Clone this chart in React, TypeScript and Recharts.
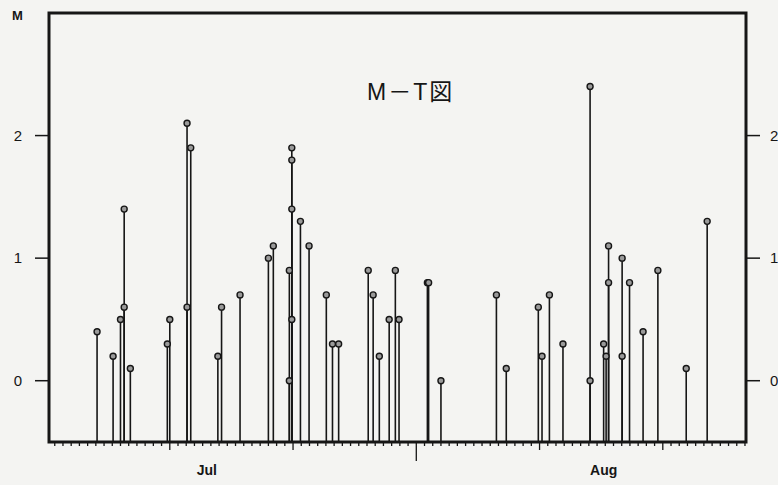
import React from "react";
import { ComposedChart, Scatter, XAxis, YAxis, ReferenceLine, ReferenceArea } from "recharts";

// event day (days from the chart origin) and magnitude
const days = [
  4.1, 5.4, 6.0, 6.3, 6.3, 6.8, 9.8, 10.0, 11.4, 11.4, 11.7, 13.9, 14.2, 15.7,
  18.0, 18.4, 19.7, 19.7, 19.9, 19.9, 19.9, 19.9, 20.6, 21.3, 22.7, 23.2, 23.7,
  26.1, 26.5, 27.0, 27.8, 28.3, 28.6, 30.9, 31.0, 32.0, 36.5, 37.3, 39.9, 40.2,
  40.8, 41.9, 44.1, 44.1, 45.2, 45.4, 45.6, 45.6, 46.7, 46.7, 47.3, 48.4, 49.6,
  51.9, 53.6,
];
const mags = [
  0.4, 0.2, 0.5, 1.4, 0.6, 0.1, 0.3, 0.5, 2.1, 0.6, 1.9, 0.2, 0.6, 0.7,
  1.0, 1.1, 0.9, 0.0, 1.9, 1.8, 1.4, 0.5, 1.3, 1.1, 0.7, 0.3, 0.3,
  0.9, 0.7, 0.2, 0.5, 0.9, 0.5, 0.8, 0.8, 0.0, 0.7, 0.1, 0.6, 0.2,
  0.7, 0.3, 2.4, 0.0, 0.3, 0.2, 1.1, 0.8, 1.0, 0.2, 0.8, 0.4, 0.9,
  0.1, 1.3,
];
const monthLabels = ["Jul", "Aug"];
const monthDays = [13.0, 45.2];
const yTicks = [0, 1, 2];

const X_MIN = 0.2;
const X_MAX = 56.75;
const Y_MIN = -0.5;
const Y_MAX = 3.0;
const INK = "#161616";
const FONT = "'Liberation Sans', Arial, sans-serif";

const events = days.map((d, i) => ({ day: d, m: mags[i] }));

// minor ticks every 2/3 day, a major one every 10 days
const axisTicks: number[] = [];
for (let k = -14; k <= 70; k++) {
  const v = 10 + (k * 2) / 3;
  if (v > X_MIN && v < X_MAX) axisTicks.push(Number(v.toFixed(4)));
}
const allTicks = [...axisTicks, ...monthDays];

const XTick = (props: any) => {
  const { x, y, payload } = props;
  const v = payload.value;
  const mi = monthDays.findIndex((d) => Math.abs(d - v) < 1e-6);
  if (mi >= 0) {
    return (
      <text x={x} y={y + 33} textAnchor="middle" fontSize={14} fontWeight="bold" fill={INK} fontFamily={FONT}>
        {monthLabels[mi]}
      </text>
    );
  }
  const k = Math.round(((v - 10) * 3) / 2);
  let len = 4;
  if (k % 15 === 0) len = Math.abs(v - 30) < 0.01 ? 19 : 8;
  return <line x1={x} x2={x} y1={y} y2={y + len} stroke={INK} strokeWidth={1.3} />;
};

const Dot = (props: any) => {
  const { cx, cy } = props;
  return <circle cx={cx} cy={cy} r={3} fill="#9a9a9a" stroke={INK} strokeWidth={1.4} />;
};

export default function App() {
  return (
    <div style={{ position: "fixed", left: 0, top: 0, width: 778, height: 485, background: "#f4f4f2" }}>
      <ComposedChart width={778} height={485} margin={{ top: 13, right: 0, bottom: 0, left: 0 }}>
        <XAxis
          dataKey="day"
          type="number"
          domain={[X_MIN, X_MAX]}
          allowDataOverflow
          ticks={allTicks}
          interval={0}
          tick={<XTick />}
          tickLine={false}
          tickSize={0}
          tickMargin={0}
          axisLine={false}
          height={43}
        />
        <YAxis
          yAxisId="left"
          type="number"
          domain={[Y_MIN, Y_MAX]}
          allowDataOverflow
          ticks={yTicks}
          interval={0}
          width={49}
          axisLine={false}
          tickSize={14}
          tickMargin={13}
          tickLine={{ stroke: INK, strokeWidth: 1.5 }}
          tick={{ fill: INK, fontSize: 15, fontFamily: FONT }}
        />
        <YAxis
          yAxisId="right"
          orientation="right"
          type="number"
          domain={[Y_MIN, Y_MAX]}
          allowDataOverflow
          ticks={yTicks}
          interval={0}
          width={32}
          axisLine={false}
          tickSize={14}
          tickMargin={10}
          tickLine={{ stroke: INK, strokeWidth: 1.5 }}
          tick={{ fill: INK, fontSize: 15, fontFamily: FONT }}
        />
        <ReferenceArea
          yAxisId="right"
          x1={X_MIN}
          x2={X_MAX}
          y1={Y_MIN}
          y2={Y_MAX}
          fill="none"
          fillOpacity={0}
          stroke={INK}
          strokeWidth={3}
          ifOverflow="visible"
        />
        {events.map((e, i) => (
          <ReferenceLine
            key={i}
            yAxisId="left"
            segment={[
              { x: e.day, y: Y_MIN },
              { x: e.day, y: e.m },
            ]}
            stroke={INK}
            strokeWidth={1.6}
            ifOverflow="visible"
          />
        ))}
        <Scatter yAxisId="left" data={events} dataKey="m" shape={<Dot />} isAnimationActive={false} />
        <Scatter yAxisId="right" data={events} dataKey="m" shape={() => <g />} isAnimationActive={false} />
      </ComposedChart>
      <div style={{ position: "absolute", left: 12, top: 8, fontSize: 13, fontWeight: "bold", color: INK, fontFamily: FONT }}>
        M
      </div>
      <div style={{ position: "absolute", left: 367, top: 73, fontSize: 23, color: INK, letterSpacing: 2,
        fontFamily: "'Liberation Sans', 'Noto Sans CJK JP', sans-serif", whiteSpace: "nowrap" }}>
        M－T図
      </div>
    </div>
  );
}
